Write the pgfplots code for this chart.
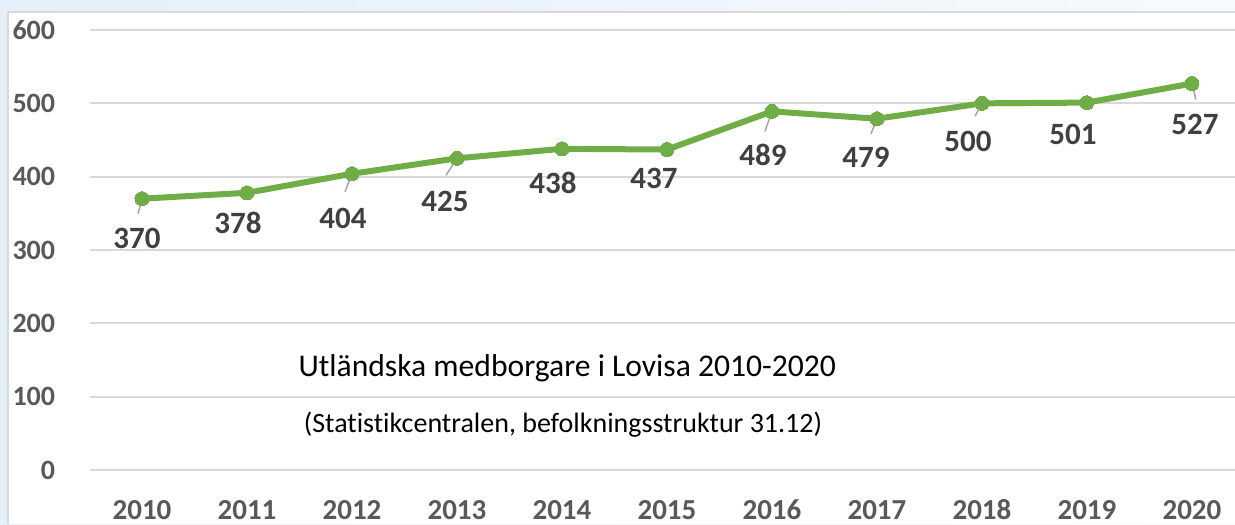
\documentclass[border=0pt]{standalone}
\usepackage{pgfplots}
\pgfplotsset{compat=1.18}
\usepackage{pgfplotstable}
\usepackage{fontspec}
\setmainfont{Carlito}[Ligatures=NoCommon]
\definecolor{lgreen}{HTML}{70AD47}
\definecolor{gridc}{HTML}{D9D9D9}
\definecolor{tickc}{HTML}{595959}
\definecolor{labc}{HTML}{404040}
\definecolor{leadc}{HTML}{A6A6A6}
\definecolor{bgA}{HTML}{E4EFFA}
\definecolor{bgB}{HTML}{F7FAFD}

\pgfplotstableread{
x y dx dy
0 370 -2.5 -20
1 378 -4.5 -15
2 404 -4.5 -22.5
3 425 -6 -21.5
4 438 -4.5 -17
5 437 -6.5 -14.5
6 489 -4.5 -22
7 479 -5.5 -19.5
8 500 -7 -19
9 501 -7 -16
10 527 1.5 -20.5
}\datatable

\pgfplotstableread{
x y u v
0 370 -0.038 -20.5
2 404 -0.067 -24.5
3 425 -0.105 -23.2
6 489 -0.067 -27.3
7 479 -0.057 -20.5
8 500 -0.067 -17.7
10 527 0.038 -21.8
}\leadtable

\begin{document}
\begin{tikzpicture}
\shade[left color=bgA, right color=bgB] (0,0) rectangle (617.5pt,262pt);
\fill[white] (4pt,0) rectangle (617.5pt,256pt);
\draw[gridc, line width=0.8pt] (4pt,0) -- (4pt,256pt) -- (617.5pt,256pt);
\begin{axis}[
  at={(44.75pt,27pt)}, anchor=south west,
  scale only axis, width=572.75pt, height=220pt,
  xmin=-0.5, xmax=10.41, ymin=0, ymax=600,
  ytick={0,100,...,600},
  xtick={0,...,10},
  xticklabels={2010,2011,2012,2013,2014,2015,2016,2017,2018,2019,2020},
  axis line style={draw=none},
  major tick length=0pt,
  ymajorgrids, grid style={gridc, line width=1pt},
  tick label style={text=tickc},
  /pgf/number format/assume math mode=true,
  yticklabel style={anchor=east, inner sep=0pt, xshift=-17pt, font=\fontsize{14}{16}\selectfont\bfseries},
  xticklabel style={anchor=base, inner sep=0pt, yshift=-24.5pt, font=\fontsize{14.5}{16}\selectfont\bfseries},
  clip=true,
]
\addplot[lgreen, line width=3pt, line join=round, mark=*, mark size=3.5pt,
  mark options={fill=lgreen, draw=lgreen, line width=0pt},
  nodes near coords, point meta=explicit symbolic,
  visualization depends on={\thisrow{dx} \as \dx},
  visualization depends on={\thisrow{dy} \as \dy},
  nodes near coords style={anchor=center, xshift=\dx pt, yshift=\dy pt,
    font=\fontsize{15.5}{17}\selectfont\bfseries, text=labc}]
  table[x=x, y=y, meta=y] {\datatable};
\addplot[leadc, line width=0.75pt, no markers, quiver={u=\thisrow{u}, v=\thisrow{v}}]
  table[x=x, y=y] {\leadtable};
\node[font=\fontsize{15.8}{18}\selectfont, text=black] at (axis cs:4.05,139) {Utländska medborgare i Lovisa 2010-2020};
\node[font=\fontsize{14}{16}\selectfont, text=black] at (axis cs:4.01,62) {(Statistikcentralen, befolkningsstruktur 31.12)};
\end{axis}
\pgfresetboundingbox
\useasboundingbox (0,0) rectangle (617.5pt,262pt);
\end{tikzpicture}
\end{document}
